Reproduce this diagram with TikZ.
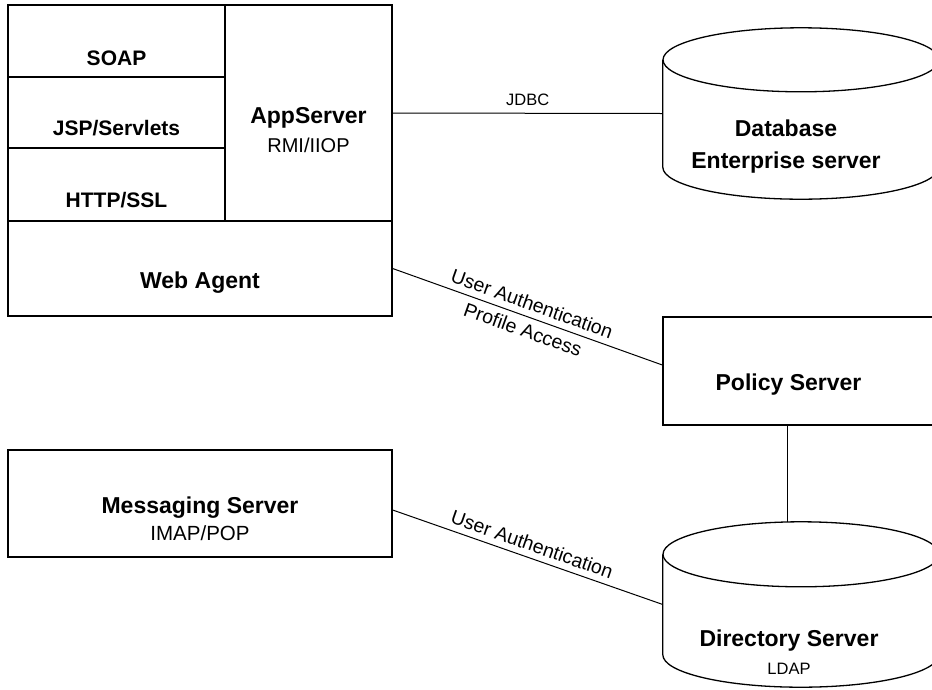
\documentclass[tikz,border=0pt]{standalone}
\usepackage{fontspec}
\setmainfont{Liberation Sans}
\tikzset{
  rim/.style={line width=1.3pt},
  box/.style={draw, rim, inner sep=0pt},
  link/.style={line width=1pt},
  title/.style={font=\bfseries\fontsize{23}{28}\selectfont, align=center},
  row/.style={font=\bfseries\fontsize{21}{25}\selectfont},
  tag/.style={font=\fontsize{19.5}{23}\selectfont, inner sep=2pt},
}
\begin{document}
\begin{tikzpicture}[x=1pt, y=-1pt]
    \useasboundingbox (0,0) rectangle (932,689);
    \clip (0,0) rectangle (932,689);

    % Pilha de protocolos ao lado do servidor de aplicacao.
    \node[box, minimum width=217pt, minimum height=72pt,
          label={[row, yshift=-17pt]center:SOAP}] (soap) at (116.5,41) {};
    \node[box, minimum width=217pt, minimum height=71pt,
          label={[row, yshift=-15.5pt]center:JSP/Servlets}] (jsp) at (116.5,112.5) {};
    \node[box, minimum width=217pt, minimum height=73pt,
          label={[row, yshift=-15.5pt]center:HTTP/SSL}] (http) at (116.5,184.5) {};
    \node[box, minimum width=167pt, minimum height=216pt,
          label={[title, yshift=-17pt]center:AppServer\\[1pt]{\normalfont\fontsize{20}{24}\selectfont RMI/IIOP}}] (app) at (308.5,113) {};
    \node[box, minimum width=384pt, minimum height=95pt,
          label={[title, yshift=-14.5pt]center:Web Agent}] (web) at (200,268.5) {};

    % Servidor de mensagens.
    \node[box, minimum width=384pt, minimum height=107pt,
          label={[title, yshift=-15.5pt]center:Messaging Server\\[-1pt]{\normalfont\fontsize{20.5}{24}\selectfont IMAP/POP}}] (msg) at (200,503.5) {};

    % Coluna da direita (cortada na borda).
    \node[box, minimum width=282pt, minimum height=108pt,
          label={[title, xshift=-15.5pt, yshift=-14pt]center:Policy Server}] (pol) at (804,371) {};
    \node[inner sep=0pt, minimum width=276pt, minimum height=171pt,
          label={[title, xshift=-15pt, yshift=-33pt]center:Database\\[4pt]Enterprise server}] (db) at (801,113.5) {};
    \node[inner sep=0pt, minimum width=276pt, minimum height=165pt,
          label={[title, xshift=-12pt, yshift=-47.5pt]center:Directory Server\\[0pt]{\normalfont\fontsize{16.5}{20}\selectfont LDAP}}] (dir) at (801,604.5) {};

    % Os dois cilindros.
    \draw[rim] ([yshift=-32pt]db.north) ellipse [x radius=138, y radius=32];
    \draw[rim] ([yshift=-32pt]db.north west) -- ([yshift=32pt]db.south west)
      arc[start angle=180, end angle=0, x radius=138, y radius=32] -- ([yshift=-32pt]db.north east);
    \draw[rim] ([yshift=-32.5pt]dir.north) ellipse [x radius=138, y radius=32.5];
    \draw[rim] ([yshift=-32.5pt]dir.north west) -- ([yshift=32.5pt]dir.south west)
      arc[start angle=180, end angle=0, x radius=138, y radius=32.5] -- ([yshift=-32.5pt]dir.north east);

    % Ligacoes.
    \draw[link] (app.east) -- node[tag, above=5pt, font=\fontsize{16.5}{20}\selectfont] {JDBC} (db.west);
    \draw[link] (web.east) -- node[tag, sloped, above=4pt] {User Authentication}
      node[tag, sloped, below=4pt] {Profile Access} ([yshift=6pt]pol.west);
    \draw[link] ([xshift=-17pt]pol.south) -- ([xshift=-17pt]pol.south |- dir.north);
    \draw[link] ([yshift=-6.5pt]msg.east) -- node[tag, sloped, above=4pt] {User Authentication} (dir.west);
\end{tikzpicture}
\end{document}
